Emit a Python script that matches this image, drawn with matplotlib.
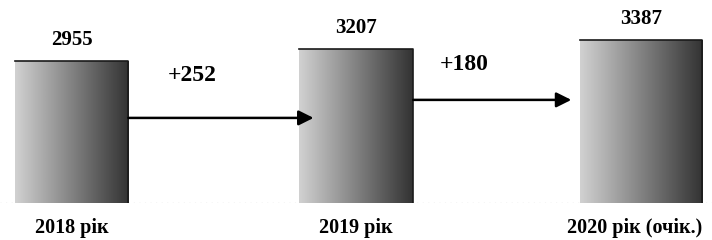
import numpy as np
import matplotlib
matplotlib.use("Agg")
import matplotlib.pyplot as plt
import matplotlib.transforms as mtransforms
from matplotlib.patches import FancyArrowPatch

categories = ["2018 рік", "2019 рік", "2020 рік (очік.)"]
values = [2955, 3207, 3387]
deltas = ["+252", "+180"]

# style / layout
W, H, DPI = 712, 240, 100
bar_widths = [0.40, 0.40, 0.43]
arrow_frac = [0.60, 0.67]
font = "Liberation Serif"

fig = plt.figure(figsize=(W / DPI, H / DPI), dpi=DPI)
ax = fig.add_axes([0, 37 / H, 1, 203 / H])
for s in ax.spines.values():
    s.set_visible(False)
ax.tick_params(length=0)
ax.set_yticks([])

x = np.arange(len(values))
bars = ax.bar(x, values, width=bar_widths, color="none", edgecolor="none")

grad = np.linspace(0.82, 0.2, 256).reshape(1, -1)
for b in bars:
    x0, y0 = b.get_x(), b.get_y()
    w, h = b.get_width(), b.get_height()
    im = ax.imshow(grad, cmap="gray", vmin=0, vmax=1, aspect="auto",
                   extent=(x0, x0 + w, y0, y0 + h), interpolation="bilinear", zorder=1)
    im.set_clip_path(b)
    ax.plot([x0, x0 + w, x0 + w], [y0 + h, y0 + h, y0], color="#1a1a1a", lw=1.2, zorder=2)

ax.set_xlim(-0.251, 2.249)
ax.set_ylim(0, 4230)

# dotted baseline
ax.axhline(0, color="#555555", lw=0.8, ls=(0, (1, 4)), zorder=0)

for b, v in zip(bars, values):
    ax.annotate(str(v), (b.get_x() + b.get_width() / 2, v), xytext=(0, 8),
                textcoords="offset points", ha="center", va="bottom",
                fontsize=15, fontweight="bold", family=font)

for i, d in enumerate(deltas):
    b0, b1 = bars[i], bars[i + 1]
    xs = b0.get_x() + b0.get_width()
    xe = b1.get_x() + (0.05 if i == 0 else -0.03)
    ya = values[i] * arrow_frac[i]
    arr = FancyArrowPatch((xs, ya), (xe, ya), arrowstyle="-|>,head_length=9,head_width=4.5",
                          color="black", lw=1.8, zorder=3, shrinkA=0, shrinkB=0)
    ax.add_patch(arr)
    xm = (xs + xe) / 2 - 0.1
    ax.annotate(d, (xm, ya), xytext=(0, 23 if i == 0 else 18), textcoords="offset points",
                ha="center", va="bottom", fontsize=17, fontweight="bold", family=font)

ax.set_xticks(x)
ax.set_xticklabels(categories, fontsize=14.5, fontweight="bold", family=font)
ax.tick_params(axis="x", pad=11)
lbls = ax.get_xticklabels()
lbls[-1].set_transform(lbls[-1].get_transform() +
                       mtransforms.ScaledTranslation(-6 / DPI, 0, fig.dpi_scale_trans))

fig.savefig("out.png", dpi=DPI)
